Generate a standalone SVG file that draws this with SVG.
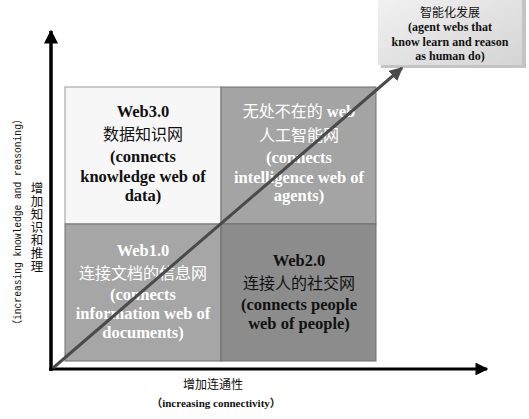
<svg xmlns="http://www.w3.org/2000/svg" width="529" height="419" viewBox="0 0 529 419">
<style>
.t{font-family:"Liberation Serif","Noto Sans CJK SC",serif;font-weight:bold;text-anchor:middle}
.q{font-size:16.5px}
.w{fill:#ffffff}
.k{fill:#111111}
.zh{font-family:"Noto Sans CJK SC","Liberation Serif",serif;font-weight:normal}
.q.zh{font-size:16px}
</style>
<defs>
<linearGradient id="g" x1="0" y1="0" x2="1" y2="1">
<stop offset="0" stop-color="#f2f2f2"/>
<stop offset="1" stop-color="#d4d4d4"/>
</linearGradient>
<marker id="ah" viewBox="0 0 10 10" refX="9" refY="5" markerWidth="4" markerHeight="4" orient="auto" markerUnits="strokeWidth">
<path d="M0,0 L10,5 L0,10 z" fill="#000"/>
</marker>
<marker id="ad" viewBox="0 0 10 10" refX="9" refY="5" markerWidth="4.5" markerHeight="4.5" orient="auto" markerUnits="strokeWidth">
<path d="M0,0 L10,5 L0,10 z" fill="#4a4a4a"/>
</marker>
</defs>
<rect width="529" height="419" fill="#ffffff"/>

<g id="web3">
<rect x="65" y="87" width="156" height="137" fill="#f7f7f7" stroke="#9a9a9a" stroke-width="1"/>
<text class="t q k" x="143" y="117">Web3.0</text>
<text class="t q k zh" x="143" y="140">数据知识网</text>
<text class="t q k" x="143" y="162">(connects</text>
<text class="t q k" x="143" y="182">knowledge web of</text>
<text class="t q k" x="143" y="201">data)</text>
</g>

<g id="ubiquitous">
<rect x="221" y="87" width="155" height="137" fill="#a4a4a4" stroke="#6e6e6e" stroke-width="1"/>
<text class="t q w" x="299" y="117"><tspan class="zh" font-size="16">无处不在的</tspan> web</text>
<text class="t q w zh" x="299" y="141">人工智能网</text>
<text class="t q w" x="299" y="163">(connects</text>
<text class="t q w" x="299" y="183">intelligence web of</text>
<text class="t q w" x="299" y="201">agents)</text>
</g>

<g id="web1">
<rect x="65" y="224" width="156" height="137" fill="#a6a6a6" stroke="#6e6e6e" stroke-width="1"/>
<text class="t q w" x="143" y="256">Web1.0</text>
<text class="t q w zh" x="143" y="279">连接文档的信息网</text>
<text class="t q w" x="143" y="300">(connects</text>
<text class="t q w" x="143" y="319">information web of</text>
<text class="t q w" x="143" y="338">documents)</text>
</g>

<g id="web2">
<rect x="221" y="224" width="155" height="137" fill="#8c8c8c" stroke="#6e6e6e" stroke-width="1"/>
<text class="t q k" x="299" y="266">Web2.0</text>
<text class="t q k zh" x="299" y="289">连接人的社交网</text>
<text class="t q k" x="299" y="310">(connects people</text>
<text class="t q k" x="299" y="329">web of people)</text>
</g>

<g id="future">
<rect x="381" y="-2" width="145" height="70" fill="#c4c4c4"/>
<rect x="378" y="-4" width="144" height="69" fill="url(#g)"/>
<text class="t k zh" x="450" y="17" font-size="12">智能化发展</text>
<text class="t k" x="450" y="31" font-size="12">(agent webs that</text>
<text class="t k" x="450" y="46" font-size="12">know learn and reason</text>
<text class="t k" x="450" y="60" font-size="12">as human do)</text>
</g>

<g id="connectors">
<line x1="51" y1="371" x2="51" y2="31" stroke="#000" stroke-width="3.5" marker-end="url(#ah)"/>
<line x1="49" y1="369" x2="487" y2="369" stroke="#000" stroke-width="3.2" marker-end="url(#ah)"/>
<line x1="53" y1="368" x2="402" y2="68" stroke="#4a4a4a" stroke-width="3" marker-end="url(#ad)"/>
</g>

<g id="axis-labels">
<text x="37" y="182" style="writing-mode:vertical-rl" font-family="Noto Sans CJK SC,serif" font-size="12.5" letter-spacing="0.5" fill="#111">增加知识和推理</text>
<text transform="translate(21,222) rotate(-90)" font-family="Liberation Mono,Noto Sans CJK SC,monospace" font-size="10.5" fill="#111" text-anchor="middle" textLength="215" lengthAdjust="spacingAndGlyphs">（increasing knowledge and reasoning）</text>
<text x="213" y="389" font-family="Noto Sans CJK SC,serif" font-size="12" fill="#111" text-anchor="middle">增加连通性</text>
<text class="t k" x="216" y="407" font-size="11">（increasing connectivity）</text>
</g>
</svg>
